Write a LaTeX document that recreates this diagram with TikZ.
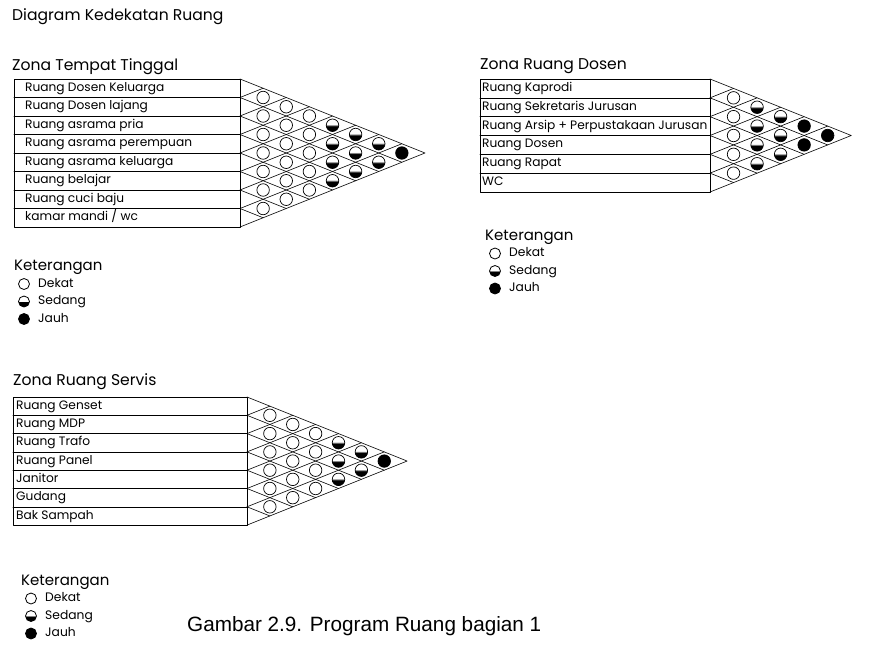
\documentclass[tikz,border=0pt]{standalone}
\usepackage{fontspec}
\setmainfont{Poppins}
\newfontfamily\capfont{Liberation Sans}
\pgfdeclareverticalshading{halfdot}{100bp}{color(0bp)=(black); color(49.9bp)=(black); color(50.1bp)=(white); color(100bp)=(white)}
% #1 name, #2 left x, #3 right x, #4 top y, #5 row height, #6 rows,
% #7 column/type list, #8 room labels, #9 label indent
\newcommand\zonagrid[9]{%
  \pgfmathsetmacro\zb{#4+#6*#5}
  \pgfmathsetmacro\zw{1.25*#5}
  \pgfmathtruncatemacro\zn{#6-1}
  \draw[grid] (#2,#4) rectangle (#3,\zb);
  \foreach \k in {1,...,\zn}{
    \draw[grid] (#2,#4+\k*#5) -- (#3,#4+\k*#5);
    \draw[grid] (#3,#4+\k*#5) -- (#3+#6*\zw-\k*\zw,#4+#6*#5/2+\k*#5/2);
    \draw[grid] (#3,#4+\k*#5) -- (#3+\k*\zw,#4+\k*#5/2);
  }
  \coordinate (#1-apex) at (#3+#6*\zw,#4+#6*#5/2);
  \draw[grid] (#3,#4) -- (#1-apex) -- (#3,\zb);
  \foreach \t [count=\k from 0] in {#8}
    \node[lbl] (#1-row\k) at (#2+#9,#4+\k*#5+#5/2) {\t};
  \foreach \d/\s in {#7}{
    \pgfmathtruncatemacro\zm{#6-1-\d}
    \foreach \i in {0,...,\zm}
      \node[\s] (#1-\d-\i) at (#3+\d*\zw,#4+\i*#5+\d*#5/2+#5/2) {};
  }
}
\begin{document}
\begin{tikzpicture}[x=1pt,y=-1pt,line join=round,line cap=round,
  every node/.style={inner sep=0pt},
  grid/.style={line width=0.6pt},
  lbl/.style={anchor=west,font=\fontsize{12.2}{13}\selectfont,text height=8.8pt,text depth=2.7pt},
  ttl/.style={anchor=base west,font=\fontsize{15.6}{17}\selectfont},
  item/.style={anchor=west,font=\fontsize{12.3}{13}\selectfont,text height=8.8pt,text depth=2.7pt},
  dot/.style={circle,draw,line width=0.7pt,minimum size=12.5pt},
  dekat/.style={dot,fill=white},
  sedang/.style={dot,shade,shading=halfdot},
  jauh/.style={dot,fill=black}]
\useasboundingbox (0,0) rectangle (870,646);

\node[ttl] (judul) at (12,20.5) {Diagram Kedekatan Ruang};

% zona tempat tinggal
\node[ttl] (judul-t) at (12,70) {Zona Tempat Tinggal};
\zonagrid{t}{14}{240}{79}{18.5}{8}{1/dekat,2/dekat,3/dekat,4/sedang,5/sedang,6/sedang,7/jauh}
  {Ruang Dosen Keluarga,Ruang Dosen lajang,Ruang asrama pria,Ruang asrama perempuan,Ruang asrama keluarga,Ruang belajar,Ruang cuci baju,kamar mandi / wc}{11}

% zona ruang dosen
\node[ttl] (judul-d) at (480,69) {Zona Ruang Dosen};
\zonagrid{d}{480}{710}{79}{18.83}{6}{1/dekat,2/sedang,3/sedang,4/jauh,5/jauh}
  {Ruang Kaprodi,Ruang Sekretaris Jurusan,Ruang Arsip + Perpustakaan Jurusan,Ruang Dosen,Ruang Rapat,WC}{2}

% zona ruang servis
\node[ttl] (judul-s) at (13,385) {Zona Ruang Servis};
\zonagrid{s}{13}{247}{397}{18.3}{7}{1/dekat,2/dekat,3/dekat,4/sedang,5/sedang,6/jauh}
  {Ruang Genset,Ruang MDP,Ruang Trafo,Ruang Panel,Janitor,Gudang,Bak Sampah}{3}

% keterangan
\foreach \lx/\ly/\nm in {14/270.5/a,485/240/b,21/585/c}{
  \node[ttl,font=\fontsize{15}{16}\selectfont] (ket-\nm) at (\lx,\ly) {Keterangan};
  \foreach \s/\t [count=\k] in {dekat/Dekat,sedang/Sedang,jauh/Jauh}{
    \node[\s,minimum size=11pt,line width=0.8pt] (ket-\nm-\s) at (\lx+10,\ly-4+\k*17.5) {};
    \node[item] at (\lx+24,\ly-4+\k*17.5) {\t};
  }
}

\node[anchor=base west,font=\capfont\fontsize{20.7}{22}\selectfont] (caption) at (187,631) {Gambar 2.9. Program Ruang bagian 1};
\end{tikzpicture}
\end{document}
